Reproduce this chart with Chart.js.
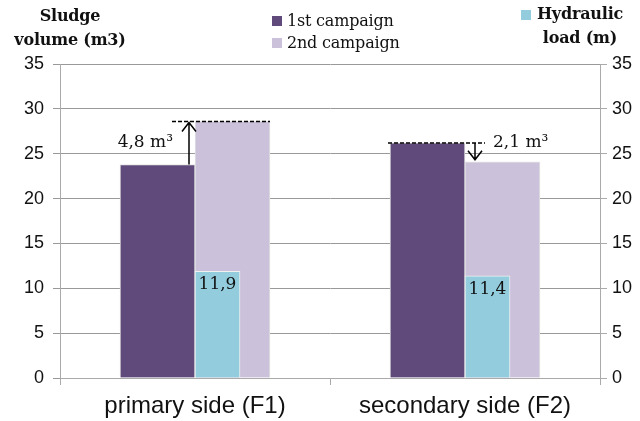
<!DOCTYPE html>
<html>
<head>
<meta charset="utf-8">
<script src="https://cdn.jsdelivr.net/npm/chart.js@4"></script>
<style>
  html, body { margin: 0; padding: 0; background: #fff; }
  #wrap { position: relative; width: 640px; height: 421px; }
  .lbl { position: absolute; font-family: "DejaVu Serif", serif; color: #111; white-space: nowrap; }
  .ttl { font-weight: bold; font-size: 16px; line-height: 24px; text-align: center; letter-spacing: -0.2px; }
  .leg { font-size: 16px; line-height: 22px; letter-spacing: -0.2px; }
  .sw { display: inline-block; width: 10px; height: 10px; margin-right: 5px; }
</style>
</head>
<body>
<div id="wrap">
  <canvas id="myChart" width="640" height="421"></canvas>
  <div class="lbl ttl" style="left:10px; top:4px; width:120px;">Sludge<br>volume (m3)</div>
  <div class="lbl leg" style="left:272px; top:10px;"><span class="sw" style="background:#604a7b"></span>1st campaign<br><span class="sw" style="background:#ccc1da"></span>2nd campaign</div>
  <span class="sw" style="position:absolute; left:521px; top:10px; background:#93cddd"></span>
  <div class="lbl ttl" style="left:520px; top:2px; width:120px;">Hydraulic<br>load (m)</div>
</div>
<script>
// данные
const categories = ['primary side (F1)', 'secondary side (F2)'];
const firstCampaign = [23.8, 26.2];
const secondCampaign = [28.6, 24.1];
const hydraulicLoad = [11.9, 11.4];
const diffLabels = ['4,8 m³', '2,1 m³'];
const yTicks = [0, 5, 10, 15, 20, 25, 30, 35];

const fmt = v => String(v).replace('.', ',');

// голубые столбцы рисуем поверх остальных
const cyanOnTop = {
  id: 'cyanOnTop',
  beforeDatasetDraw(chart, args) {
    if (args.index === 2) return false;
  },
  afterDatasetsDraw(chart) {
    chart.getDatasetMeta(2).controller.draw();
  }
};

// аннотации: стрелки и пунктир
const annotations = {
  id: 'annotations',
  afterDatasetsDraw(chart) {
    const ctx = chart.ctx;
    const y = chart.scales.y;
    const m1 = chart.getDatasetMeta(0).data;
    const m2 = chart.getDatasetMeta(1).data;
    ctx.save();
    ctx.strokeStyle = '#000';
    ctx.fillStyle = '#111';
    ctx.lineWidth = 1.5;
    ctx.font = '17px "DejaVu Serif", serif';
    ctx.textBaseline = 'middle';

    // F1: стрелка вверх
    let b1 = m1[0], b2 = m2[0];
    let ax = b1.x + b1.width / 2 - 6;
    let yLow = y.getPixelForValue(firstCampaign[0]);
    let yHigh = y.getPixelForValue(secondCampaign[0]);
    ctx.setLineDash([4, 2]);
    ctx.beginPath();
    ctx.moveTo(ax - 17, yHigh); ctx.lineTo(b2.x + b2.width / 2, yHigh);
    ctx.stroke();
    ctx.setLineDash([]);
    ctx.beginPath();
    ctx.moveTo(ax, yLow); ctx.lineTo(ax, yHigh + 1);
    ctx.moveTo(ax - 7, yHigh + 10); ctx.lineTo(ax, yHigh + 1); ctx.lineTo(ax + 7, yHigh + 10);
    ctx.stroke();
    ctx.textAlign = 'right';
    ctx.fillText(diffLabels[0], ax - 16, (yLow + yHigh) / 2);

    // F2: стрелка вниз
    b1 = m1[1]; b2 = m2[1];
    ax = b2.x - b2.width / 2 + 10;
    yHigh = y.getPixelForValue(firstCampaign[1]);
    yLow = y.getPixelForValue(secondCampaign[1]);
    ctx.setLineDash([4, 2]);
    ctx.beginPath();
    ctx.moveTo(b1.x - b1.width / 2 - 2, yHigh); ctx.lineTo(ax + 10, yHigh);
    ctx.stroke();
    ctx.setLineDash([]);
    ctx.beginPath();
    ctx.moveTo(ax, yHigh); ctx.lineTo(ax, yLow - 2);
    ctx.moveTo(ax - 7, yLow - 11); ctx.lineTo(ax, yLow - 2); ctx.lineTo(ax + 7, yLow - 11);
    ctx.stroke();
    ctx.textAlign = 'left';
    ctx.fillText(diffLabels[1], ax + 18, yHigh);

    // подписи голубых столбцов
    const mh = chart.getDatasetMeta(2).data;
    ctx.textAlign = 'center';
    ctx.textBaseline = 'top';
    mh.forEach((b, i) => ctx.fillText(fmt(hydraulicLoad[i]), b.x, b.y + 5));
    ctx.restore();
  }
};

const tickFont = { family: '"Liberation Sans", Arial, sans-serif', size: 18 };

let ctx = document.getElementById('myChart').getContext('2d');
let chart = new Chart(ctx, {
  type: 'bar',
  data: {
    labels: categories,
    datasets: [
      { label: '1st campaign', data: firstCampaign, backgroundColor: '#604a7b', borderColor: '#e4e4e4', borderWidth: 1,
        barThickness: 75, stack: 'left', yAxisID: 'y' },
      { label: '2nd campaign', data: secondCampaign, backgroundColor: '#ccc1da', borderColor: '#e4e4e4', borderWidth: 1,
        barThickness: 75, stack: 'right', yAxisID: 'y' },
      { label: 'Hydraulic load (m)', data: hydraulicLoad, backgroundColor: '#93cddd', borderColor: '#f0f0f0', borderWidth: 1,
        barThickness: 45, stack: 'right', yAxisID: 'y2' }
    ]
  },
  options: {
    responsive: false,
    animation: false,
    layout: { padding: { top: 64, left: 0, right: 0, bottom: 0 } },
    plugins: { legend: { display: false }, tooltip: { enabled: false } },
    scales: {
      x: {
        offset: true,
        border: { color: '#aaa' },
        grid: { drawOnChartArea: false, color: '#aaa', tickLength: 7 },
        ticks: { color: '#111', font: { family: '"Liberation Sans", Arial, sans-serif', size: 24 }, padding: 7 },
        afterFit: s => { s.height = 43; }
      },
      y: {
        position: 'left', min: 0, max: 35, stacked: false,
        afterBuildTicks: s => { s.ticks = yTicks.map(v => ({ value: v })); },
        border: { color: '#aaa' },
        grid: { color: '#999', tickLength: 7 },
        ticks: { color: '#111', font: tickFont, padding: 9 },
        afterFit: s => { s.width = 60; }
      },
      y2: {
        position: 'right', min: 0, max: 35, stacked: false,
        afterBuildTicks: s => { s.ticks = yTicks.map(v => ({ value: v })); },
        border: { color: '#aaa' },
        grid: { drawOnChartArea: false, color: '#aaa', tickLength: 7 },
        ticks: { color: '#111', font: tickFont, padding: 5 },
        afterFit: s => { s.width = 40; }
      }
    }
  },
  plugins: [cyanOnTop, annotations]
});
</script>
</body>
</html>
